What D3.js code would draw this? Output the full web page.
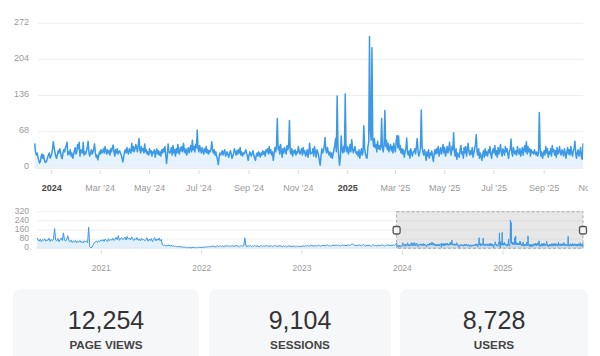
<!DOCTYPE html>
<html><head><meta charset="utf-8">
<script src="https://cdn.jsdelivr.net/npm/d3@7"></script>
<style>
html,body{margin:0;padding:0;background:#fff;}
svg{display:block;font-family:"Liberation Sans",Arial,Helvetica,sans-serif;}
</style></head><body>
<svg id="c" width="600" height="356"></svg>
<script>
// ---------- DATA ----------
const dailyStart = "2023-12-11"; // first day shown in the detail chart
const dailyValues = [
46,30,24,28,20,14,9, 12,22,26,18,24,15,10, 11,14,20,24,28,18,22, 26,35,49,38,30,22,18,
24,32,28,36,30,20,17, 28,34,30,38,42,48,24, 30,26,34,22,28,18,24, 32,38,26,30,44,36,48,
22,34,30,28,48,24,30, 26,32,38,50,30,22,28, 34,26,30,36,45,28,20, 24,15,22,30,26,34,28,
30,36,28,40,32,26,34, 28,32,24,36,30,38,43, 30,22,34,28,36,26,30, 32,28,24,18,11,20,30,
34,28,38,30,26,36,32, 28,46,32,40,30,36,44, 38,30,42,55,34,28,40, 32,36,28,45,30,34,26,
30,24,36,28,32,22,30, 28,34,20,30,36,26,32, 24,30,22,34,28,36,30, 40,26,8,22,45,30,28,
30,38,24,42,28,34,22, 36,28,44,30,26,38,32, 40,30,46,34,28,36,24, 32,38,28,36,42,30,52,
34,40,30,44,38,71,36, 30,42,34,28,38,32,26, 36,30,40,28,34,26,32, 30,36,49,32,28,34,24,
30,22,16,6,20,28,24, 28,32,24,30,34,22,26, 30,24,20,28,32,26,18, 22,28,36,30,24,32,26,
34,28,38,24,30,22,28, 26,30,34,28,22,14,24, 30,26,22,28,32,24,18, 14,24,28,22,30,26,20,
28,24,32,26,30,22,34, 30,36,26,40,28,34,24, 30,14,26,38,30,42,93, 34,40,26,44,30,20,36,
28,38,32,26,42,34,40, 89,30,26,36,22,32,28, 34,24,30,28,40,32,26, 30,36,24,38,28,32,22,
26,34,20,30,46,26,28, 28,36,22,40,30,20,34, 30,24,14,5,22,36,28, 32,40,57,34,28,38,30,
24,30,20,28,18,26,34, 42,55,30,135,40,22,5, 20,60,34,28,40,30,139, 36,30,40,26,34,44,30,
53,36,28,34,40,30,26, 30,22,34,18,28,36,24, 30,79,36,26,20,18,40, 48,247,70,52,226,56,40,
55,38,44,30,50,36,42, 34,40,93,36,30,44,108, 40,52,34,46,30,38,44, 32,40,28,46,36,30,50,
61,38,60,34,42,28,36, 26,34,20,30,36,56,28, 24,32,18,36,28,22,30, 30,36,26,40,55,32,22,
28,38,109,40,30,24,34, 26,14,30,22,34,18,28, 24,32,20,12,28,34,26, 36,28,40,22,30,38,26,
34,44,28,38,22,30,40, 28,36,48,30,24,40,34, 66,30,22,36,16,28,24, 20,34,42,26,30,18,38,
28,40,22,34,46,30,24, 32,26,38,20,28,36,44, 62,30,24,36,18,28,22, 14,26,32,20,36,24,30,
22,34,28,40,26,18,30, 36,28,42,24,32,20,38, 26,34,44,28,22,36,30, 24,40,30,36,26,18,32,
34,54,28,22,38,30,26, 32,24,40,30,26,36,22, 30,38,24,34,42,30,49, 26,40,30,36,22,34,28,
30,26,34,28,24,30,22, 28,104,36,22,30,18,26, 32,24,40,28,36,20,30, 26,36,22,42,30,34,24,
32,20,38,26,30,40,28, 24,34,30,22,36,28,18, 30,38,26,34,24,40,28, 22,32,36,50,26,18,30,
34,22,28,38,20,16,46
];
const earlyStep = 4; // earlier history, one reading every 4 days, ending just before dailyStart
const earlyValues = [
91,72,64,80,58,76,68,84,62,74, 70,88,60,78,66,82,172,72,64,86, 58,76,90,68,135,74,62,80,110,66,
58,72,50,64,56,70,48,62,54,68, 52,60,46,66,56,62,50,184,14,4, 10,30,48,56,62,50,66,58,72,
64,76,60,82,70,58,84,66,78,72, 88,68,80,96,74,112,70,86,92,76, 84,98,72,104,80,90,74,100,82,68,
86,76,94,70,82,64,88,72,78,66, 74,92,62,80,68,86,58,76,94,64, 82,70,90,66,78,
30,24,28,20,26,22,30,18,24,20, 22,16,20,14,18,12,16,10,14,8,12,7,
5,9,4,8,3,6,10,5,8,4,7,11,6,9,5,12,8,14,10,12,
16,12,18,14,20,16,12,18,22,14, 18,24,16,20,14,22,18,26,16,20, 22,18,24,16,20,26,18,22,14,20,24,18,22,
91,
20,16,22,18,24,14,20,18,26,16, 22,18,14,20,24,16,22,18,20,26, 16,22,18,24,14,20,26,18,22,16,
20,24,18,14,22,16,20,12,18,22, 16,20,14,18,22,12,16,20,14,18,16,
18,22,16,24,20,26,18,22,28,20, 24,18,26,22,20,28,24,18,26,22, 28,20,24,30,22,26,18,24,28,22,
26,30,22,28,24,20,26,30,24,28, 22,26,30,24,28,34,38,30,26,22, 28,24,30,26,22,28,32,24,20,26,
22,28,24,18,26,30,22,26,20,24, 28,22,26,30,24,20,28,24,30,26, 22,28,24,30,26,32
];
const mainYTicks = [0, 68, 136, 204, 272];
const miniYTicks = [0, 80, 160, 240, 320];
const statValues = [12254, 9104, 8728];
const statLabels = ["PAGE VIEWS", "SESSIONS", "USERS"];

// ---------- BUILD ----------
const parse = d3.timeParse("%Y-%m-%d");
const start = parse(dailyStart);
const daily = dailyValues.map((v, i) => ({date: d3.timeDay.offset(start, i), value: v}));
const early = earlyValues.map((v, k) => ({date: d3.timeDay.offset(start, -earlyStep * (earlyValues.length - k)), value: v}));
const all = early.concat(daily);
const lastDate = daily[daily.length - 1].date;

const blue = "#3b99e6";
const svg = d3.select("#c");
const defs = svg.append("defs");

// ----- main chart -----
const xMain = d3.scaleTime().domain([daily[0].date, lastDate]).range([34.7, 583]);
const yMain = d3.scaleLinear().domain([0, 272]).range([167.8, 23.3]);

defs.append("clipPath").attr("id", "mainClip").append("rect")
  .attr("x", 34).attr("y", 0).attr("width", 549.5).attr("height", 168.5);
defs.append("clipPath").attr("id", "labelClip").append("rect")
  .attr("x", 0).attr("y", 170).attr("width", 588).attr("height", 30);

const gMain = svg.append("g");
gMain.selectAll(".grid").data(mainYTicks.filter(t => t > 0)).join("line")
  .attr("x1", 38).attr("x2", 583)
  .attr("y1", d => yMain(d)).attr("y2", d => yMain(d))
  .attr("stroke", "#efefef").attr("stroke-width", 1);

gMain.selectAll(".ylab").data(mainYTicks).join("text")
  .attr("x", 29).attr("y", d => yMain(d) - 1.5).attr("dy", "0.35em")
  .attr("text-anchor", "end").attr("font-size", 9).attr("fill", "#9a9a9a")
  .text(d => d);

const pMain = gMain.append("g").attr("clip-path", "url(#mainClip)");
pMain.append("path").datum(daily)
  .attr("d", d3.area().x(d => xMain(d.date)).y0(yMain(0)).y1(d => yMain(d.value)))
  .attr("fill", blue).attr("fill-opacity", 0.13);
pMain.append("path").datum(daily)
  .attr("d", d3.line().x(d => xMain(d.date)).y(d => yMain(d.value)))
  .attr("fill", "none").attr("stroke", blue).attr("stroke-width", 1.5)
  .attr("stroke-linejoin", "round");

gMain.append("line").attr("x1", 34.7).attr("x2", 583)
  .attr("y1", 168.3).attr("y2", 168.3).attr("stroke", "#eaeaea");

const monthTicks = d3.timeMonth.every(2).range(d3.timeMonth.ceil(daily[0].date), d3.timeMonth.offset(lastDate, 1));
const gxl = gMain.append("g").attr("clip-path", "url(#labelClip)");
gxl.selectAll("line").data(monthTicks.filter(d => xMain(d) <= 583)).join("line")
  .attr("x1", d => xMain(d)).attr("x2", d => xMain(d))
  .attr("y1", 169.5).attr("y2", 174).attr("stroke", "#dcdcdc");
gxl.selectAll("text").data(monthTicks).join("text")
  .attr("x", d => xMain(d)).attr("y", 191)
  .attr("text-anchor", "middle").attr("font-size", 9)
  .attr("font-weight", d => d.getMonth() === 0 ? "bold" : "normal")
  .attr("fill", d => d.getMonth() === 0 ? "#444" : "#9a9a9a")
  .text(d => d.getMonth() === 0 ? d3.timeFormat("%Y")(d) : d3.timeFormat("%b '%y")(d));

// ----- mini (overview) chart -----
const xMini = d3.scaleTime().domain([all[0].date, lastDate]).range([37, 583]);
const yMini = d3.scaleLinear().domain([0, 320]).range([248.3, 211.7]);
const gMini = svg.append("g");
gMini.selectAll(".grid").data(miniYTicks).join("line")
  .attr("x1", 37).attr("x2", 583)
  .attr("y1", d => yMini(d)).attr("y2", d => yMini(d))
  .attr("stroke", "#efefef");
gMini.selectAll(".ylab").data(miniYTicks).join("text")
  .attr("x", 29).attr("y", d => yMini(d) - 1).attr("dy", "0.35em")
  .attr("text-anchor", "end").attr("font-size", 8.6).attr("fill", "#9a9a9a")
  .text(d => d);

// brush selection
const bx0 = xMini(daily[0].date), bx1 = xMini(lastDate);
gMini.append("rect").attr("x", bx0).attr("y", yMini(320))
  .attr("width", bx1 - bx0).attr("height", yMini(0) - yMini(320))
  .attr("fill", "#c4c4c4").attr("fill-opacity", 0.4)
  .attr("stroke", "#9a9a9a").attr("stroke-width", 0.8).attr("stroke-dasharray", "3,2");

gMini.append("path").datum(all)
  .attr("d", d3.area().x(d => xMini(d.date)).y0(yMini(0)).y1(d => yMini(d.value)))
  .attr("fill", blue).attr("fill-opacity", 0.15);
gMini.append("path").datum(all)
  .attr("d", d3.line().x(d => xMini(d.date)).y(d => yMini(d.value)))
  .attr("fill", "none").attr("stroke", blue).attr("stroke-width", 1)
  .attr("stroke-linejoin", "round");

[bx0, bx1].forEach(x => {
  gMini.append("rect").attr("x", x - 3.5).attr("y", 226.5).attr("width", 7).attr("height", 7.5)
    .attr("rx", 1.8).attr("fill", "#f4f4f4").attr("stroke", "#555").attr("stroke-width", 1.3);
});

const yearTicks = d3.timeYear.range(d3.timeYear.ceil(all[0].date), lastDate);
gMini.selectAll(".xt").data(yearTicks).join("line")
  .attr("x1", d => xMini(d)).attr("x2", d => xMini(d))
  .attr("y1", 250).attr("y2", 254.5).attr("stroke", "#dcdcdc");
gMini.selectAll(".xl").data(yearTicks).join("text")
  .attr("x", d => xMini(d)).attr("y", 271)
  .attr("text-anchor", "middle").attr("font-size", 8.5).attr("fill", "#9a9a9a")
  .text(d => d3.timeFormat("%Y")(d));

// ----- stat cards -----
const cards = [{x: 13, w: 186}, {x: 209, w: 182}, {x: 400, w: 188}];
const gc = svg.append("g");
cards.forEach((c, i) => {
  gc.append("rect").attr("x", c.x).attr("y", 289).attr("width", c.w).attr("height", 90)
    .attr("rx", 8).attr("fill", "#f6f7f9");
  gc.append("text").attr("x", c.x + c.w / 2).attr("y", 329)
    .attr("text-anchor", "middle").attr("font-size", 25).attr("fill", "#333")
    .text(d3.format(",")(statValues[i]));
  gc.append("text").attr("x", c.x + c.w / 2).attr("y", 348.5)
    .attr("text-anchor", "middle").attr("font-size", 11.7).attr("font-weight", "bold").attr("fill", "#444")
    .text(statLabels[i]);
});
</script>
</body></html>
